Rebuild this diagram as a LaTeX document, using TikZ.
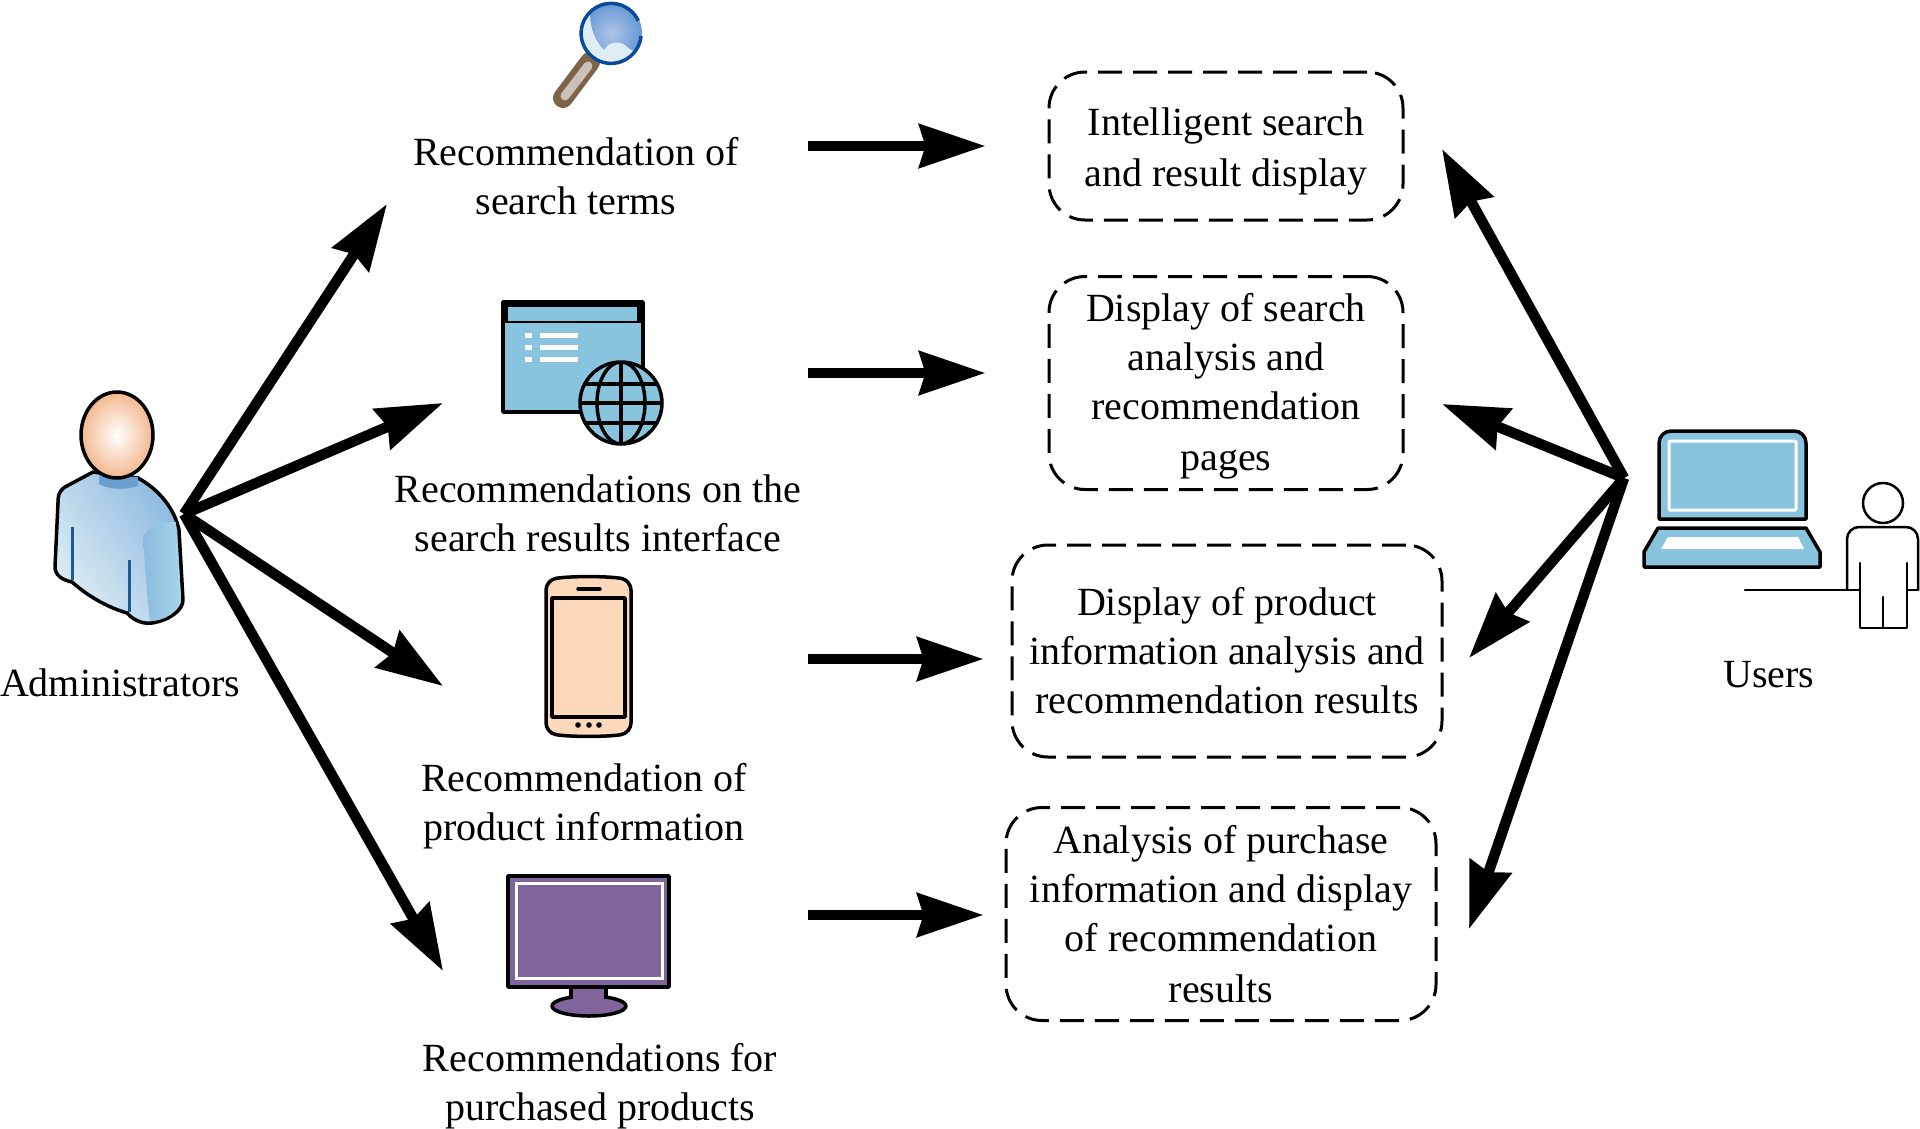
\documentclass[tikz,border=0pt]{standalone}
\usepackage{fontspec}
\setmainfont{Liberation Serif}
\usetikzlibrary{arrows.meta}
\definecolor{screenblue}{HTML}{89C4DF}
\definecolor{phonepeach}{HTML}{FDD9BC}
\definecolor{monitorpurple}{HTML}{80649C}
\definecolor{lensblue}{HTML}{0A4A9A}
\definecolor{lenscentre}{HTML}{AFC4E8}
\definecolor{lensedge}{HTML}{6498D4}
\definecolor{handlebrown}{HTML}{7D6348}
\definecolor{shirtpale}{HTML}{DFEDF5}
\definecolor{shirtdark}{HTML}{8CBADF}
\definecolor{sleevepale}{HTML}{A6D6E8}
\definecolor{collarblue}{HTML}{6A9FD0}
\definecolor{seamblue}{HTML}{1A5A9A}
\definecolor{headpeach}{HTML}{F3B88E}
\tikzset{
	bigarrow/.style = {line width = 10.5pt, -{Stealth[length = 66pt, width = 43pt, inset = 6pt]}},
	dashbox/.style = {draw, line width = 3pt, dash pattern = on 24pt off 11pt, rounded corners = 36pt, align = center, inner sep = 0pt},
	itemlabel/.style = {align = center, inner sep = 0pt},
	iconline/.style = {draw = black, line width = 3.5pt, line join = round}
}

\begin{document}
\begin{tikzpicture}[x = 1pt, y = -1pt, font = \fontsize{40}{49}\selectfont]
	\useasboundingbox (0,0) rectangle (1920,1128);

	% administrator
	\path [iconline, left color = shirtpale, right color = shirtdark, shading angle = 125]
		(93,472) -- (65,487) .. controls (58,492) and (58,497) .. (58,503) -- (55,567)
		.. controls (55,575) and (62,580) .. (72,582) .. controls (90,598) and (110,608) .. (127,613)
		.. controls (135,622) and (145,624) .. (152,623) .. controls (170,620) and (183,610) .. (183,600)
		-- (179,530) .. controls (175,510) and (160,490) .. (138,478) -- cycle;
	\path [left color = shirtdark, right color = sleevepale]
		(143,537) .. controls (148,527) and (158,522) .. (176,522) -- (181,600)
		.. controls (178,612) and (165,621) .. (150,621) -- (147,593) -- cycle;
	\fill [collarblue] (99,475) -- (138,477) -- (138,486) .. controls (125,490) and (110,490) .. (99,484) -- cycle;
	\draw [line width = 3pt, seamblue] (72,527) -- (72,580) (129,560) -- (129,612);
	\draw [iconline, inner color = white, outer color = headpeach] (117,435) ellipse (36 and 43);
	\node [itemlabel] (adminlabel) at (120,683) {Administrators};

	% magnifier
	\draw [line width = 20pt, line cap = round, handlebrown] (590,62) -- (563,98);
	\draw [line width = 9pt, line cap = round, handlebrown!40!white] (588,66) -- (565,96);
	\shade [inner color = lenscentre, outer color = lensedge] (611,33) circle (31);
	\fill [shirtpale] (590,14) .. controls (590,30) and (596,42) .. (604,50)
		.. controls (608,42) and (620,40) .. (626,46) .. controls (630,50) and (634,52) .. (637,50)
		.. controls (630,60) and (620,64) .. (611,64) .. controls (592,64) and (580,50) .. (580,33)
		.. controls (580,26) and (584,18) .. (590,14) -- cycle;
	\draw [line width = 3.5pt, lensblue] (641,36) arc (5:335:30) ;
	\node [itemlabel] (termslabel) at (576,176) {Recommendation of\\search terms};

	% search window
	\draw [iconline, fill = screenblue] (503,302) rectangle (643,412);
	\fill [black] (503,302) rectangle (643,323);
	\fill [screenblue] (508,307) rectangle (637,321);
	\foreach \y in {333,345,357}
	{
		\fill [white] (525,\y) rectangle (532,\y+5);
		\fill [white] (540,\y) rectangle (578,\y+5);
	}
	\draw [iconline, fill = screenblue] (621,403) circle (41);
	\begin{scope}
		\clip (621,403) circle (41);
		\draw [iconline] (621,403) ellipse (24 and 41);
		\draw [iconline] (621,361) -- (621,445);
		\foreach \y in {384,403,423}
		{
			\draw [iconline] (580,\y) -- (664,\y);
		}
	\end{scope}
	\node [itemlabel] (resultslabel) at (598,513) {Recommendations on the\\search results interface};

	% phone
	\draw [iconline, fill = phonepeach, rounded corners = 10pt] (546,580) .. controls (570,576) and (607,576) .. (631,580) -- (631,733) .. controls (607,737) and (570,737) .. (546,733) -- cycle;
	\draw [iconline] (552,598) rectangle (625,717);
	\draw [line width = 3.5pt, line cap = round] (578,589) -- (600,589);
	\foreach \x in {578,589,599}
	{
		\fill (\x,725) circle (2.8);
	}
	\node [itemlabel] (productlabel) at (584,806) {Recommendation of\\product information};

	% monitor
	\draw [iconline, fill = monitorpurple] (589,1006) ellipse (37 and 10);
	\draw [iconline, fill = monitorpurple] (571,985) -- (571,997) -- (606,997) -- (606,985);
	\fill [monitorpurple] (573,995) rectangle (604,1003);
	\draw [iconline, fill = monitorpurple] (508,876) rectangle (669,987);
	\draw [line width = 3pt, white] (516,883) rectangle (662,978);
	\node [itemlabel] (boughtlabel) at (600,1086) {Recommendations for\\purchased products};

	% laptop and user
	\draw [iconline, fill = screenblue, rounded corners = 12pt] (1659,519) -- (1659,431) -- (1806,431) [sharp corners] -- (1806,519) -- cycle;
	\draw [line width = 3pt, white, rounded corners = 1pt] (1669,441) rectangle (1796,510);
	\draw [iconline, fill = screenblue] (1658,528) -- (1806,528) -- (1820,552) -- (1820,567) -- (1644,567) -- (1644,552) -- cycle;
	\fill [white] (1668,537) -- (1798,537) -- (1804,549) -- (1661,549) -- cycle;
	\begin{scope}[line width = 2.5pt, line cap = round, line join = round]
		\draw (1883,503) circle (20);
		\draw [rounded corners = 12pt] (1847,590) -- (1847,527) -- (1918,527) -- (1918,590);
		\draw (1745,590) -- (1860,590) (1907,590) -- (1918,590);
		\draw (1860,563) -- (1860,628) -- (1907,628) -- (1907,563);
		\draw (1883,597) -- (1883,628);
	\end{scope}
	\node [itemlabel] (userlabel) at (1769,675) {Users};

	% dashed boxes
	\node [dashbox, minimum width = 354pt, minimum height = 148pt] (searchbox) at (1226,146) {\rule{0pt}{38pt}Intelligent search\\[2pt]and result display};
	\node [dashbox, minimum width = 354pt, minimum height = 213pt] (analysisbox) at (1226,383) {\rule{0pt}{34pt}Display of search\\analysis and\\recommendation\\[2pt]pages};
	\node [dashbox, minimum width = 430pt, minimum height = 212pt] (infobox) at (1227,651) {Display of product\\information analysis and\\recommendation results};
	\node [dashbox, minimum width = 430pt, minimum height = 213pt] (purchasebox) at (1221,914) {Analysis of purchase\\information and display\\of recommendation\\[2pt]results};

	% connector ends
	\coordinate (adminhub) at (184,514);
	\coordinate (userhub) at (1624,478);
	\coordinate (termsend) at (387,204);
	\coordinate (resultsend) at (443,403);
	\coordinate (productend) at (443,686);
	\coordinate (boughtend) at (443,971);
	\coordinate (searchend) at (1442,149);
	\coordinate (analysisend) at (1442,404);
	\coordinate (infoend) at (1469,658);
	\coordinate (purchaseend) at (1469,929);
	\coordinate (termsrow) at (808,146);
	\coordinate (resultsrow) at (808,373);
	\coordinate (productrow) at (808,659);
	\coordinate (boughtrow) at (808,915);

	\foreach \e in {termsend,resultsend,productend,boughtend}
	{
		\draw [bigarrow] (adminhub) -- (\e);
	}
	\foreach \e in {searchend,analysisend,infoend,purchaseend}
	{
		\draw [bigarrow] (userhub) -- (\e);
	}
	\draw [bigarrow, shorten > = 62pt] (termsrow) -- (termsrow -| searchbox.west);
	\draw [bigarrow, shorten > = 62pt] (resultsrow) -- (resultsrow -| analysisbox.west);
	\draw [bigarrow, shorten > = 27pt] (productrow) -- (productrow -| infobox.west);
	\draw [bigarrow, shorten > = 21pt] (boughtrow) -- (boughtrow -| purchasebox.west);
\end{tikzpicture}
\end{document}
